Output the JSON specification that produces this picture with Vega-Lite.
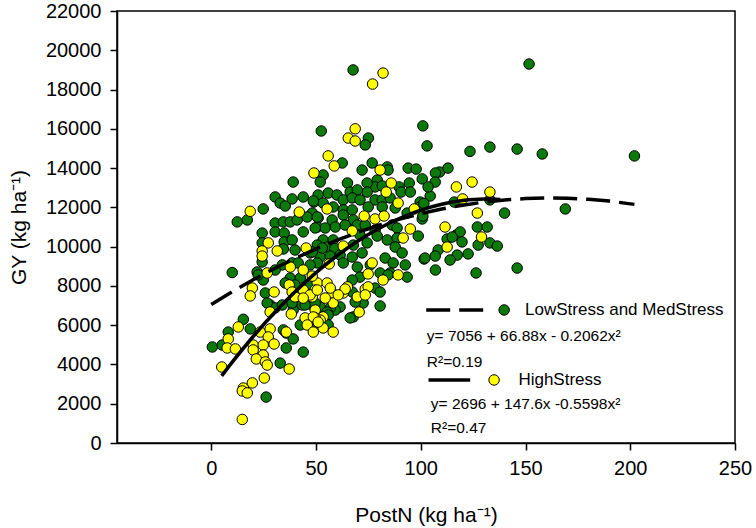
{
  "$schema": "https://vega.github.io/schema/vega-lite/v6.json",
  "width": 618,
  "height": 432,
  "autosize": {"type": "none"},
  "padding": {"left": 117, "top": 11, "right": 21, "bottom": 85},
  "background": "white",
  "config": {
    "font": "Liberation Sans",
    "view": {"stroke": "black", "strokeWidth": 1.5},
    "axis": {
      "domainColor": "black", "domainWidth": 1.5, "tickColor": "black", "tickWidth": 1.5, "tickSize": 7,
      "labelFont": "Liberation Sans", "labelFontSize": 20, "labelColor": "black", "labelOverlap": false, "labelBound": false, "labelFlush": false,
      "titleFont": "Liberation Sans", "titleFontSize": 21, "titleFontWeight": "normal", "titleColor": "black",
      "grid": false
    }
  },
  "datasets": {
    "pts": [
      {"PostN":67.7,"GY":19000,"Group":"L"},{"PostN":151.7,"GY":19300,"Group":"L"},{"PostN":52.5,"GY":15890,"Group":"L"},{"PostN":75,"GY":15530,"Group":"L"},{"PostN":73.5,"GY":15180,"Group":"L"},{"PostN":101,"GY":16150,"Group":"L"},{"PostN":103,"GY":15130,"Group":"L"},{"PostN":123.5,"GY":14850,"Group":"L"},{"PostN":133,"GY":15070,"Group":"L"},{"PostN":146,"GY":14970,"Group":"L"},{"PostN":158,"GY":14720,"Group":"L"},{"PostN":202,"GY":14620,"Group":"L"},
      {"PostN":109,"GY":13800,"Group":"L"},{"PostN":113,"GY":14000,"Group":"L"},{"PostN":116,"GY":12270,"Group":"L"},{"PostN":133,"GY":12380,"Group":"L"},{"PostN":140,"GY":11710,"Group":"L"},{"PostN":169,"GY":11920,"Group":"L"},{"PostN":127,"GY":11000,"Group":"L"},{"PostN":131.7,"GY":11000,"Group":"L"},{"PostN":117,"GY":10590,"Group":"L"},{"PostN":118.8,"GY":10750,"Group":"L"},{"PostN":112.6,"GY":10390,"Group":"L"},{"PostN":133,"GY":10190,"Group":"L"},{"PostN":136.5,"GY":10030,"Group":"L"},{"PostN":127.4,"GY":10080,"Group":"L"},{"PostN":122.6,"GY":9630,"Group":"L"},{"PostN":117.4,"GY":9570,"Group":"L"},{"PostN":114,"GY":9320,"Group":"L"},{"PostN":126.4,"GY":8660,"Group":"L"},{"PostN":146,"GY":8910,"Group":"L"},{"PostN":104.5,"GY":12580,"Group":"L"},{"PostN":100.7,"GY":11410,"Group":"L"},{"PostN":119.7,"GY":10240,"Group":"L"},{"PostN":115,"GY":10490,"Group":"L"},{"PostN":108.3,"GY":9830,"Group":"L"},{"PostN":106.9,"GY":9520,"Group":"L"},{"PostN":101.6,"GY":9370,"Group":"L"},{"PostN":107,"GY":8810,"Group":"L"},
      {"PostN":62.5,"GY":14260,"Group":"L"},{"PostN":53.4,"GY":13650,"Group":"L"},{"PostN":52,"GY":13290,"Group":"L"},{"PostN":72,"GY":13900,"Group":"L"},{"PostN":76.8,"GY":14260,"Group":"L"},{"PostN":84,"GY":14060,"Group":"L"},{"PostN":84.4,"GY":13900,"Group":"L"},{"PostN":94,"GY":14000,"Group":"L"},{"PostN":97.8,"GY":13950,"Group":"L"},{"PostN":107,"GY":13750,"Group":"L"},{"PostN":100.7,"GY":13450,"Group":"L"},{"PostN":106.9,"GY":13290,"Group":"L"},{"PostN":103.5,"GY":13040,"Group":"L"},{"PostN":79.2,"GY":13390,"Group":"L"},{"PostN":78.2,"GY":13040,"Group":"L"},{"PostN":81.6,"GY":13090,"Group":"L"},{"PostN":89.7,"GY":13040,"Group":"L"},{"PostN":90.6,"GY":12780,"Group":"L"},{"PostN":94.5,"GY":13240,"Group":"L"},{"PostN":95,"GY":12780,"Group":"L"},{"PostN":65,"GY":13240,"Group":"L"},{"PostN":66.3,"GY":12780,"Group":"L"},{"PostN":74.4,"GY":13240,"Group":"L"},{"PostN":74.4,"GY":12780,"Group":"L"},{"PostN":69.7,"GY":12890,"Group":"L"},{"PostN":55.8,"GY":12730,"Group":"L"},{"PostN":60,"GY":12630,"Group":"L"},{"PostN":51,"GY":12630,"Group":"L"},{"PostN":49,"GY":12270,"Group":"L"},{"PostN":53.4,"GY":12220,"Group":"L"},{"PostN":63,"GY":12380,"Group":"L"},{"PostN":67.3,"GY":12480,"Group":"L"},{"PostN":71,"GY":12380,"Group":"L"},{"PostN":78.2,"GY":12380,"Group":"L"},{"PostN":81.6,"GY":12380,"Group":"L"},{"PostN":85.4,"GY":12480,"Group":"L"},{"PostN":99.7,"GY":12270,"Group":"L"},{"PostN":99.7,"GY":12020,"Group":"L"},
      {"PostN":58.2,"GY":12020,"Group":"L"},{"PostN":63,"GY":11870,"Group":"L"},{"PostN":67.3,"GY":11870,"Group":"L"},{"PostN":74.9,"GY":12020,"Group":"L"},{"PostN":81.6,"GY":12020,"Group":"L"},{"PostN":87.8,"GY":11970,"Group":"L"},{"PostN":93.5,"GY":11710,"Group":"L"},{"PostN":101.5,"GY":12200,"Group":"L"},{"PostN":101,"GY":11560,"Group":"L"},{"PostN":48.2,"GY":11710,"Group":"L"},{"PostN":51,"GY":11460,"Group":"L"},{"PostN":57.7,"GY":11360,"Group":"L"},{"PostN":63,"GY":11610,"Group":"L"},{"PostN":67.8,"GY":11360,"Group":"L"},{"PostN":50.6,"GY":11000,"Group":"L"},{"PostN":54.4,"GY":10950,"Group":"L"},{"PostN":59.2,"GY":11000,"Group":"L"},{"PostN":63.9,"GY":11100,"Group":"L"},{"PostN":69.7,"GY":11100,"Group":"L"},{"PostN":73.5,"GY":11100,"Group":"L"},{"PostN":78.2,"GY":10850,"Group":"L"},{"PostN":86.4,"GY":11100,"Group":"L"},{"PostN":88.7,"GY":10950,"Group":"L"},{"PostN":84,"GY":10340,"Group":"L"},{"PostN":88.7,"GY":10440,"Group":"L"},{"PostN":98.8,"GY":10540,"Group":"L"},{"PostN":53.4,"GY":10340,"Group":"L"},{"PostN":58.2,"GY":10340,"Group":"L"},{"PostN":50.6,"GY":10080,"Group":"L"},{"PostN":55.3,"GY":9980,"Group":"L"},{"PostN":59,"GY":9900,"Group":"L"},{"PostN":71,"GY":10590,"Group":"L"},{"PostN":74.4,"GY":10190,"Group":"L"},{"PostN":67.8,"GY":10080,"Group":"L"},{"PostN":79.2,"GY":10540,"Group":"L"},{"PostN":87.8,"GY":9980,"Group":"L"},{"PostN":91.1,"GY":9680,"Group":"L"},{"PostN":102,"GY":9420,"Group":"L"},
      {"PostN":47.2,"GY":9680,"Group":"L"},{"PostN":52,"GY":9470,"Group":"L"},{"PostN":56.8,"GY":9520,"Group":"L"},{"PostN":61.5,"GY":9570,"Group":"L"},{"PostN":67.3,"GY":9470,"Group":"L"},{"PostN":72,"GY":9680,"Group":"L"},{"PostN":83,"GY":9420,"Group":"L"},{"PostN":86.8,"GY":9170,"Group":"L"},{"PostN":92.6,"GY":9070,"Group":"L"},{"PostN":50.6,"GY":9170,"Group":"L"},{"PostN":63,"GY":9170,"Group":"L"},{"PostN":69.7,"GY":8960,"Group":"L"},{"PostN":75.9,"GY":9070,"Group":"L"},{"PostN":80.6,"GY":8660,"Group":"L"},{"PostN":85.4,"GY":8660,"Group":"L"},{"PostN":93.5,"GY":8450,"Group":"L"},{"PostN":71,"GY":8450,"Group":"L"},{"PostN":84.4,"GY":8560,"Group":"L"},{"PostN":67.3,"GY":8300,"Group":"L"},{"PostN":67.3,"GY":7690,"Group":"L"},{"PostN":78.2,"GY":7890,"Group":"L"},{"PostN":80.6,"GY":7690,"Group":"L"},{"PostN":80.6,"GY":6980,"Group":"L"},{"PostN":72.5,"GY":7130,"Group":"L"},{"PostN":68.7,"GY":7180,"Group":"L"},{"PostN":67.8,"GY":6420,"Group":"L"},{"PostN":66.3,"GY":6370,"Group":"L"},{"PostN":61.5,"GY":6930,"Group":"L"},{"PostN":59.2,"GY":6770,"Group":"L"},{"PostN":52,"GY":6930,"Group":"L"},{"PostN":56.8,"GY":6880,"Group":"L"},{"PostN":55.3,"GY":6670,"Group":"L"},{"PostN":55.8,"GY":6520,"Group":"L"},{"PostN":50.6,"GY":6110,"Group":"L"},{"PostN":55.8,"GY":6010,"Group":"L"},
      {"PostN":0.5,"GY":4890,"Group":"L"},{"PostN":5.2,"GY":4990,"Group":"L"},{"PostN":8.1,"GY":5650,"Group":"L"},{"PostN":15.3,"GY":6300,"Group":"L"},{"PostN":18.6,"GY":5810,"Group":"L"},{"PostN":32.9,"GY":4070,"Group":"L"},{"PostN":26.2,"GY":2340,"Group":"L"},{"PostN":28.1,"GY":7030,"Group":"L"},{"PostN":34.4,"GY":5760,"Group":"L"},{"PostN":35.8,"GY":5600,"Group":"L"},{"PostN":39.1,"GY":5300,"Group":"L"},{"PostN":35.8,"GY":4840,"Group":"L"},{"PostN":43.9,"GY":4630,"Group":"L"},{"PostN":30.5,"GY":6880,"Group":"L"},{"PostN":39.1,"GY":6770,"Group":"L"},{"PostN":42.5,"GY":6010,"Group":"L"},{"PostN":43.4,"GY":7030,"Group":"L"},{"PostN":47.2,"GY":7080,"Group":"L"},
      {"PostN":39.1,"GY":13290,"Group":"L"},{"PostN":30.5,"GY":12530,"Group":"L"},{"PostN":32.9,"GY":12220,"Group":"L"},{"PostN":35.3,"GY":12070,"Group":"L"},{"PostN":38.6,"GY":12430,"Group":"L"},{"PostN":43.9,"GY":12530,"Group":"L"},{"PostN":48.7,"GY":12330,"Group":"L"},{"PostN":12.4,"GY":11260,"Group":"L"},{"PostN":17.2,"GY":11360,"Group":"L"},{"PostN":24.8,"GY":11920,"Group":"L"},{"PostN":30.5,"GY":11200,"Group":"L"},{"PostN":34.4,"GY":11260,"Group":"L"},{"PostN":37.7,"GY":11260,"Group":"L"},{"PostN":41,"GY":11360,"Group":"L"},{"PostN":45.8,"GY":11510,"Group":"L"},{"PostN":50.6,"GY":11510,"Group":"L"},{"PostN":24.3,"GY":10690,"Group":"L"},{"PostN":30.5,"GY":10750,"Group":"L"},{"PostN":34.8,"GY":10690,"Group":"L"},{"PostN":43.9,"GY":10750,"Group":"L"},{"PostN":49.6,"GY":10950,"Group":"L"},{"PostN":24.3,"GY":10190,"Group":"L"},{"PostN":34.8,"GY":10240,"Group":"L"},{"PostN":38.6,"GY":10340,"Group":"L"},{"PostN":34.4,"GY":9880,"Group":"L"},{"PostN":40,"GY":9830,"Group":"L"},{"PostN":48.2,"GY":9730,"Group":"L"},{"PostN":53,"GY":9930,"Group":"L"},{"PostN":24.3,"GY":9220,"Group":"L"},{"PostN":10,"GY":8680,"Group":"L"},{"PostN":33.9,"GY":9070,"Group":"L"},{"PostN":38.6,"GY":9170,"Group":"L"},{"PostN":30.5,"GY":8810,"Group":"L"},{"PostN":41.5,"GY":9170,"Group":"L"},{"PostN":47.2,"GY":9070,"Group":"L"},{"PostN":21.9,"GY":8710,"Group":"L"},{"PostN":24.8,"GY":8300,"Group":"L"},{"PostN":37.7,"GY":8400,"Group":"L"},{"PostN":42.5,"GY":8400,"Group":"L"},{"PostN":35.3,"GY":8150,"Group":"L"},{"PostN":40,"GY":8050,"Group":"L"},{"PostN":47.2,"GY":8050,"Group":"L"},{"PostN":25.8,"GY":7640,"Group":"L"},{"PostN":26.7,"GY":7130,"Group":"L"},{"PostN":33.9,"GY":7030,"Group":"L"},{"PostN":38.6,"GY":7130,"Group":"L"},{"PostN":44.8,"GY":7030,"Group":"L"},{"PostN":49.6,"GY":7130,"Group":"L"},{"PostN":22.4,"GY":8560,"Group":"L"},
      {"PostN":82,"GY":18840,"Group":"H"},{"PostN":77,"GY":18280,"Group":"H"},{"PostN":68.7,"GY":16000,"Group":"H"},{"PostN":65.4,"GY":15530,"Group":"H"},{"PostN":68.7,"GY":15380,"Group":"H"},{"PostN":117,"GY":13040,"Group":"H"},{"PostN":124.5,"GY":13290,"Group":"H"},{"PostN":133,"GY":12780,"Group":"H"},{"PostN":120,"GY":12430,"Group":"H"},{"PostN":127,"GY":11710,"Group":"H"},{"PostN":111.6,"GY":11000,"Group":"H"},{"PostN":129,"GY":10490,"Group":"H"},{"PostN":112.6,"GY":9980,"Group":"H"},{"PostN":55.8,"GY":14620,"Group":"H"},{"PostN":58.7,"GY":14110,"Group":"H"},{"PostN":49,"GY":13750,"Group":"H"},{"PostN":80.6,"GY":13900,"Group":"H"},{"PostN":85.9,"GY":13240,"Group":"H"},{"PostN":83.5,"GY":12780,"Group":"H"},{"PostN":89.2,"GY":12220,"Group":"H"},{"PostN":55.3,"GY":11920,"Group":"H"},{"PostN":73,"GY":11560,"Group":"H"},{"PostN":78.2,"GY":11410,"Group":"H"},{"PostN":82.5,"GY":11560,"Group":"H"},{"PostN":96.9,"GY":11920,"Group":"H"},{"PostN":95,"GY":10900,"Group":"H"},{"PostN":67.3,"GY":10800,"Group":"H"},{"PostN":91.6,"GY":10440,"Group":"H"},{"PostN":63,"GY":10030,"Group":"H"},{"PostN":56.3,"GY":9120,"Group":"H"},{"PostN":76.8,"GY":9170,"Group":"H"},{"PostN":74.9,"GY":8610,"Group":"H"},{"PostN":89.2,"GY":8560,"Group":"H"},{"PostN":82,"GY":8300,"Group":"H"},{"PostN":65,"GY":7950,"Group":"H"},{"PostN":73.5,"GY":7840,"Group":"H"},{"PostN":69.7,"GY":7440,"Group":"H"},{"PostN":74.9,"GY":7950,"Group":"H"},{"PostN":73.5,"GY":7540,"Group":"H"},{"PostN":70.6,"GY":6670,"Group":"H"},{"PostN":57.7,"GY":7640,"Group":"H"},{"PostN":63,"GY":7640,"Group":"H"},{"PostN":63.9,"GY":7840,"Group":"H"},{"PostN":58.2,"GY":7130,"Group":"H"},{"PostN":54.4,"GY":7380,"Group":"H"},{"PostN":60.6,"GY":7540,"Group":"H"},{"PostN":49.6,"GY":6770,"Group":"H"},{"PostN":53.4,"GY":6420,"Group":"H"},{"PostN":52,"GY":6260,"Group":"H"},{"PostN":49.6,"GY":6370,"Group":"H"},{"PostN":53.4,"GY":5860,"Group":"H"},{"PostN":58.2,"GY":5650,"Group":"H"},{"PostN":50.6,"GY":8150,"Group":"H"},{"PostN":49.6,"GY":7790,"Group":"H"},{"PostN":48.2,"GY":7440,"Group":"H"},{"PostN":55.3,"GY":8150,"Group":"H"},{"PostN":56.8,"GY":7890,"Group":"H"},
      {"PostN":8.1,"GY":5300,"Group":"H"},{"PostN":7.6,"GY":4840,"Group":"H"},{"PostN":11.5,"GY":4790,"Group":"H"},{"PostN":5,"GY":3870,"Group":"H"},{"PostN":12.9,"GY":5910,"Group":"H"},{"PostN":23.4,"GY":5650,"Group":"H"},{"PostN":28.1,"GY":5810,"Group":"H"},{"PostN":27.2,"GY":5400,"Group":"H"},{"PostN":20,"GY":4990,"Group":"H"},{"PostN":24.8,"GY":4990,"Group":"H"},{"PostN":30,"GY":5040,"Group":"H"},{"PostN":20,"GY":4740,"Group":"H"},{"PostN":24.8,"GY":4480,"Group":"H"},{"PostN":21.5,"GY":4280,"Group":"H"},{"PostN":25.8,"GY":4130,"Group":"H"},{"PostN":26.7,"GY":3970,"Group":"H"},{"PostN":37.2,"GY":3770,"Group":"H"},{"PostN":25.3,"GY":3310,"Group":"H"},{"PostN":19.6,"GY":3060,"Group":"H"},{"PostN":15.3,"GY":2800,"Group":"H"},{"PostN":14.8,"GY":2650,"Group":"H"},{"PostN":17.2,"GY":2550,"Group":"H"},{"PostN":14.8,"GY":1200,"Group":"H"},{"PostN":28.1,"GY":6670,"Group":"H"},{"PostN":35.8,"GY":5650,"Group":"H"},{"PostN":38.2,"GY":6570,"Group":"H"},{"PostN":44.8,"GY":6370,"Group":"H"},{"PostN":48.7,"GY":6420,"Group":"H"},{"PostN":45.8,"GY":6010,"Group":"H"},{"PostN":51,"GY":6160,"Group":"H"},{"PostN":48.7,"GY":5650,"Group":"H"},{"PostN":42,"GY":11760,"Group":"H"},{"PostN":18.6,"GY":11800,"Group":"H"},{"PostN":27.2,"GY":10190,"Group":"H"},{"PostN":31.5,"GY":9780,"Group":"H"},{"PostN":24.3,"GY":9780,"Group":"H"},{"PostN":24.3,"GY":9520,"Group":"H"},{"PostN":45.3,"GY":9930,"Group":"H"},{"PostN":37.7,"GY":8960,"Group":"H"},{"PostN":26.7,"GY":8660,"Group":"H"},{"PostN":43.9,"GY":8810,"Group":"H"},{"PostN":48.2,"GY":8500,"Group":"H"},{"PostN":19.6,"GY":7890,"Group":"H"},{"PostN":18.6,"GY":7490,"Group":"H"},{"PostN":30,"GY":7690,"Group":"H"},{"PostN":37.2,"GY":8050,"Group":"H"},{"PostN":38.6,"GY":7690,"Group":"H"},{"PostN":43.9,"GY":7790,"Group":"H"},{"PostN":47.2,"GY":7540,"Group":"H"},{"PostN":40,"GY":7440,"Group":"H"},{"PostN":43.9,"GY":7380,"Group":"H"},{"PostN":50.6,"GY":7790,"Group":"H"}
    ],
    "fitL": [
      {"PostN":0,"GY":7056},{"PostN":10,"GY":7704},{"PostN":20,"GY":8311},{"PostN":30,"GY":8877},{"PostN":40,"GY":9401},{"PostN":50,"GY":9885},{"PostN":60,"GY":10327},{"PostN":70,"GY":10727},{"PostN":80,"GY":11087},{"PostN":90,"GY":11405},{"PostN":100,"GY":11682},{"PostN":110,"GY":11918},{"PostN":120,"GY":12112},{"PostN":130,"GY":12266},{"PostN":140,"GY":12378},{"PostN":150,"GY":12449},{"PostN":160,"GY":12478},{"PostN":170,"GY":12466},{"PostN":180,"GY":12414},{"PostN":190,"GY":12319},{"PostN":202,"GY":12152}
    ],
    "fitH": [
      {"PostN":5,"GY":3420},{"PostN":10,"GY":4116},{"PostN":20,"GY":5424},{"PostN":30,"GY":6620},{"PostN":40,"GY":7704},{"PostN":50,"GY":8677},{"PostN":60,"GY":9537},{"PostN":70,"GY":10285},{"PostN":80,"GY":10921},{"PostN":90,"GY":11446},{"PostN":100,"GY":11858},{"PostN":110,"GY":12158},{"PostN":120,"GY":12347},{"PostN":130,"GY":12425},{"PostN":138,"GY":12404}
    ],
    "legLine": [
      {"PostN":102.6,"PostN2":129.8,"GY":6775,"Group":"L"},
      {"PostN":103.7,"PostN2":123.6,"GY":3210,"Group":"H"}
    ],
    "legPts": [
      {"PostN":139.8,"GY":6775,"Group":"L"},
      {"PostN":135,"GY":3210,"Group":"H"}
    ],
    "legText": [
      {"PostN":149.8,"GY":6760,"label":"LowStress and MedStress"},
      {"PostN":146.6,"GY":3190,"label":"HighStress"}
    ],
    "eqText": [
      {"PostN":102.9,"GY":5450,"label":"y= 7056 + 66.88x - 0.2062x²"},
      {"PostN":102.9,"GY":4130,"label":"R²=0.19"},
      {"PostN":104.8,"GY":1980,"label":"y= 2696 + 147.6x -0.5598x²"},
      {"PostN":104.8,"GY":740,"label":"R²=0.47"}
    ]
  },
  "layer": [
    {
      "data": {"name": "pts"},
      "mark": {"type": "circle", "size": 110, "opacity": 1, "stroke": "black", "strokeWidth": 1},
      "encoding": {
        "x": {"field": "PostN", "type": "quantitative", "scale": {"domain": [-45, 250], "nice": false, "zero": false},
              "axis": {"values": [0, 50, 100, 150, 200, 250], "format": "d", "labelPadding": 8, "labelOverlap": false, "title": "PostN (kg ha⁻¹)", "titlePadding": 26}},
        "y": {"field": "GY", "type": "quantitative", "scale": {"domain": [0, 22000], "nice": false},
              "axis": {"values": [0,2000,4000,6000,8000,10000,12000,14000,16000,18000,20000,22000], "format": "d", "labelPadding": 9, "labelOverlap": false, "labelBound": false, "tickCount": 12, "title": "GY (kg ha⁻¹)", "titlePadding": 16}},
        "color": {"field": "Group", "type": "nominal", "scale": {"domain": ["L", "H"], "range": ["#0b7a0b", "#ffff00"]}, "legend": null}
      }
    },
    {
      "data": {"name": "fitL"},
      "mark": {"type": "line", "color": "black", "strokeWidth": 3.5, "strokeDash": [24, 9]},
      "encoding": {"x": {"field": "PostN", "type": "quantitative"}, "y": {"field": "GY", "type": "quantitative"}}
    },
    {
      "data": {"name": "fitH"},
      "mark": {"type": "line", "color": "black", "strokeWidth": 3.5, "interpolate": "monotone"},
      "encoding": {"x": {"field": "PostN", "type": "quantitative"}, "y": {"field": "GY", "type": "quantitative"}}
    },
    {
      "data": {"name": "legLine"},
      "mark": {"type": "rule", "color": "black", "strokeWidth": 3.5},
      "encoding": {
        "x": {"field": "PostN", "type": "quantitative"},
        "x2": {"field": "PostN2"},
        "y": {"field": "GY", "type": "quantitative"},
        "strokeDash": {"field": "Group", "type": "nominal", "scale": {"domain": ["L", "H"], "range": [[24, 9], [1, 0]]}, "legend": null}
      }
    },
    {
      "data": {"name": "legPts"},
      "mark": {"type": "circle", "size": 110, "opacity": 1, "stroke": "black", "strokeWidth": 1},
      "encoding": {
        "x": {"field": "PostN", "type": "quantitative"},
        "y": {"field": "GY", "type": "quantitative"},
        "color": {"field": "Group", "type": "nominal", "legend": null}
      }
    },
    {
      "data": {"name": "legText"},
      "mark": {"type": "text", "align": "left", "baseline": "middle", "fontSize": 17, "font": "Liberation Sans", "color": "black"},
      "encoding": {
        "x": {"field": "PostN", "type": "quantitative"},
        "y": {"field": "GY", "type": "quantitative"},
        "text": {"field": "label"}
      }
    },
    {
      "data": {"name": "eqText"},
      "mark": {"type": "text", "align": "left", "baseline": "middle", "fontSize": 15.5, "font": "Liberation Sans", "color": "black"},
      "encoding": {
        "x": {"field": "PostN", "type": "quantitative"},
        "y": {"field": "GY", "type": "quantitative"},
        "text": {"field": "label"}
      }
    }
  ]
}
